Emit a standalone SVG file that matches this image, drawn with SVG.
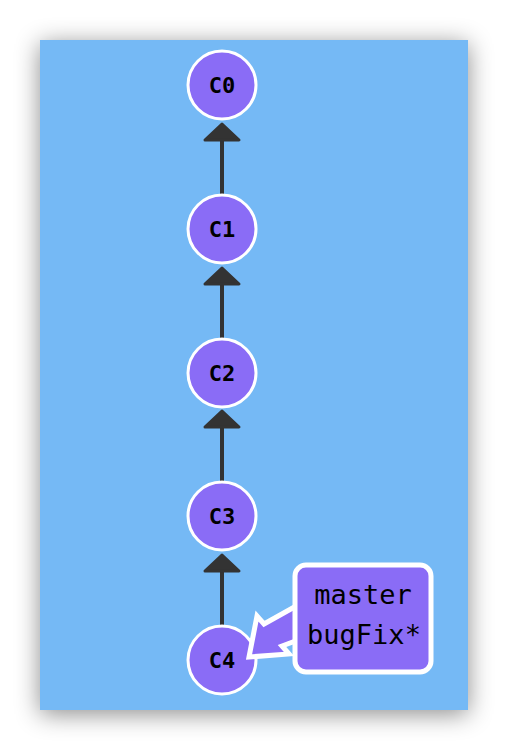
<svg xmlns="http://www.w3.org/2000/svg" width="508" height="750" viewBox="0 0 508 750">
<defs>
<filter id="sh" x="-30%" y="-30%" width="160%" height="160%">
<feDropShadow dx="0" dy="4" stdDeviation="12" flood-color="#000" flood-opacity="0.45"/>
</filter>
</defs>
<style>
.node circle{fill:#8a6cf6;stroke:#fff;stroke-width:3}
.node text{font-family:"DejaVu Sans Mono",monospace;font-weight:bold;font-size:22px;text-anchor:middle;fill:#000}
.edge line{stroke:#333;stroke-width:4}
.edge path{fill:#333;stroke:#333;stroke-width:3;stroke-linejoin:round}
.lbl{fill:#8a6cf6;stroke:#fff;stroke-width:5}
.lbltext{font-family:"DejaVu Sans Mono",monospace;font-size:27px;text-anchor:middle;fill:#000}
</style>
<rect x="40" y="40" width="428" height="670" fill="#74b9f5" filter="url(#sh)"/>
<g id="edges" class="edge">
<line x1="222" y1="195" x2="222" y2="138"/><path d="M205,140 L222,124 L239,140 Z"/>
<line x1="222" y1="339" x2="222" y2="282"/><path d="M205,284 L222,268 L239,284 Z"/>
<line x1="222" y1="482" x2="222" y2="425"/><path d="M205,427 L222,411 L239,427 Z"/>
<line x1="222" y1="626" x2="222" y2="569"/><path d="M205,571 L222,555 L239,571 Z"/>
</g>
<g id="C0" class="node"><circle cx="222" cy="85" r="34"/><text x="222" y="93">C0</text></g>
<g id="C1" class="node"><circle cx="222" cy="229" r="34"/><text x="222" y="237">C1</text></g>
<g id="C2" class="node"><circle cx="222" cy="373" r="34"/><text x="222" y="381">C2</text></g>
<g id="C3" class="node"><circle cx="222" cy="516" r="34"/><text x="222" y="524">C3</text></g>
<g id="C4" class="node"><circle cx="222" cy="660" r="34"/><text x="222" y="668">C4</text></g>
<g id="label">
<polygon class="lbl" points="298,605 264,624 257,616 249,657 289,654 282,646 298,640"/>
<rect class="lbl" x="295" y="565" width="136" height="107" rx="11"/>
<text class="lbltext" x="363" y="604">master</text>
<text class="lbltext" x="364" y="644">bugFix*</text>
</g>
</svg>
